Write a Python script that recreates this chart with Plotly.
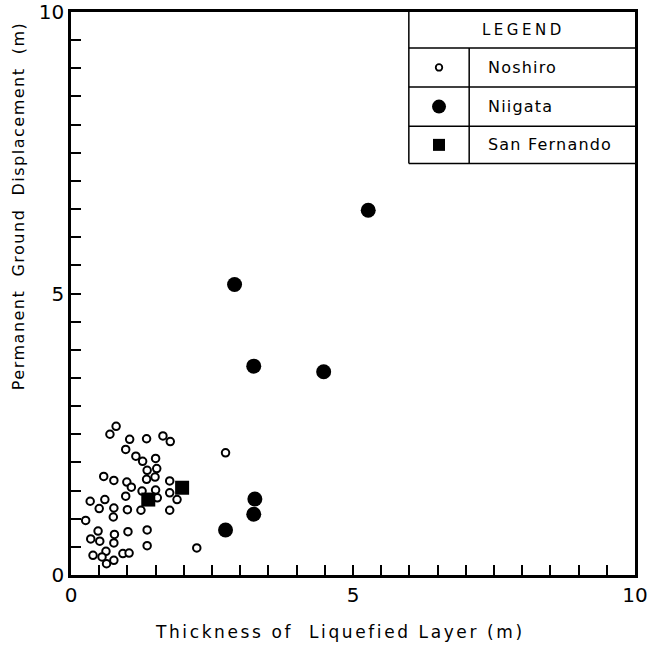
import numpy as np
import plotly.graph_objects as go

# Permanent ground displacement vs. thickness of liquefied layer
noshiro_x = [0.80, 0.69, 1.04, 1.34, 1.63, 1.76, 0.97, 1.15, 1.27, 1.50, 1.52, 1.35, 1.34,
             1.49, 1.75, 0.58, 0.76, 0.99, 1.07, 1.26, 1.50, 1.53, 1.75, 1.88, 0.97, 0.60,
             0.34, 0.50, 0.76, 0.75, 1.00, 1.24, 1.75, 0.26, 0.48, 0.35, 0.51, 0.77, 0.76,
             1.01, 1.35, 1.35, 0.62, 0.39, 0.55, 0.63, 0.76, 0.92, 1.03, 2.74, 2.23]
noshiro_y = [2.64, 2.50, 2.41, 2.42, 2.47, 2.37, 2.23, 2.11, 2.02, 2.07, 1.89, 1.86, 1.70,
             1.74, 1.67, 1.75, 1.68, 1.65, 1.56, 1.49, 1.51, 1.37, 1.46, 1.34, 1.40, 1.34,
             1.31, 1.18, 1.19, 1.03, 1.16, 1.15, 1.15, 0.97, 0.78, 0.64, 0.60, 0.72, 0.57,
             0.77, 0.80, 0.52, 0.42, 0.35, 0.32, 0.20, 0.26, 0.38, 0.39, 2.17, 0.48]

niigata_x = [5.27, 2.90, 3.24, 4.48, 3.26, 3.24, 2.74]
niigata_y = [6.48, 5.16, 3.71, 3.61, 1.35, 1.08, 0.80]

sanfernando_x = [1.97, 1.37]
sanfernando_y = [1.55, 1.34]

tick_vals = [i * 0.5 for i in range(21)]
tick_text = ["0" if v == 0 else "5" if v == 5 else "10" if v == 10 else "" for v in tick_vals]

series_names = ["Noshiro", "Niigata", "San Fernando"]

FONT = "DejaVu Sans"
INK = "black"


def spaced(text, px):
    """Wrap text in a span with CSS letter-spacing (lettering is set wide)."""
    return f'<span style="letter-spacing:{px}px">{text}</span>'


open_circle = dict(symbol="circle", size=7.5, color="white", line=dict(color=INK, width=2))
filled_circle = dict(symbol="circle", size=15, color=INK, line=dict(width=0))
filled_square = dict(symbol="square", size=14, color=INK, line=dict(width=0))
styles = [open_circle, filled_circle, filled_square]

fig = go.Figure()
fig.add_trace(go.Scatter(x=noshiro_x, y=noshiro_y, mode="markers", marker=open_circle,
                         name=series_names[0], showlegend=False))
fig.add_trace(go.Scatter(x=niigata_x, y=niigata_y, mode="markers", marker=filled_circle,
                         name=series_names[1], showlegend=False))
fig.add_trace(go.Scatter(x=sanfernando_x, y=sanfernando_y, mode="markers", marker=filled_square,
                         name=series_names[2], showlegend=False))

# Boxed legend table in the upper-right corner (data units of the axes)
box_left, box_div, box_right, box_top = 5.99, 7.06, 10.0, 10.0
row_lines = [9.36, 8.67, 7.97, 7.31]
line_style = dict(color=INK, width=1.5)
shapes = [
    dict(type="line", x0=box_left, x1=box_left, y0=row_lines[-1], y1=box_top, line=line_style),
    dict(type="line", x0=box_div, x1=box_div, y0=row_lines[-1], y1=row_lines[0], line=line_style),
]
for yl in row_lines:
    shapes.append(dict(type="line", x0=box_left, x1=box_right, y0=yl, y1=yl, line=line_style))

row_centers = [(row_lines[i] + row_lines[i + 1]) / 2 for i in range(3)]
key_x = (box_left + box_div) / 2
legend_key_styles = [dict(open_circle, size=6.5, line=dict(color=INK, width=1.8)),
                     dict(filled_circle, size=14), dict(filled_square, size=12)]
for name, style, yc in zip(series_names, legend_key_styles, row_centers):
    fig.add_trace(go.Scatter(x=[key_x], y=[yc], mode="markers", marker=style,
                             showlegend=False, hoverinfo="skip"))

annotations = [
    dict(x=(box_left + box_right) / 2 + 0.03, y=(box_top + row_lines[0]) / 2, xref="x", yref="y",
         text=spaced("LEGEND", 3.5), showarrow=False,
         font=dict(family=FONT, size=15, color=INK)),
]
for name, yc in zip(series_names, row_centers):
    annotations.append(dict(x=7.36, y=yc, xref="x", yref="y", text=spaced(name, 1.2),
                            showarrow=False, xanchor="left",
                            font=dict(family=FONT, size=16, color=INK)))

annotations.append(dict(x=0.477, y=-0.101, xref="paper", yref="paper",
                        text=spaced("Thickness of  Liquefied Layer (m)", 2.6), showarrow=False,
                        xanchor="center", yanchor="middle",
                        font=dict(family=FONT, size=17, color=INK)))
annotations.append(dict(x=-0.094, y=0.655, xref="paper", yref="paper",
                        text=spaced("Permanent  Ground  Displacement  (m)", 1.5), showarrow=False,
                        textangle=-90, xanchor="center", yanchor="middle",
                        font=dict(family=FONT, size=16, color=INK)))

axis_common = dict(
    range=[0, 10], tickmode="array", tickvals=tick_vals, ticktext=tick_text,
    ticks="inside", ticklen=10, tickwidth=1.5, tickcolor=INK,
    showline=True, linewidth=2.5, linecolor=INK, mirror=True,
    showgrid=False, zeroline=False, automargin=False,
    tickfont=dict(family=FONT, size=20, color=INK),
)

fig.update_layout(
    width=648, height=645,
    margin=dict(l=71, r=13, t=12, b=70),
    paper_bgcolor="white", plot_bgcolor="white",
    xaxis=dict(**axis_common),
    yaxis=dict(**axis_common),
    shapes=shapes,
    annotations=annotations,
    showlegend=False,
)

fig.write_html("out.html")
